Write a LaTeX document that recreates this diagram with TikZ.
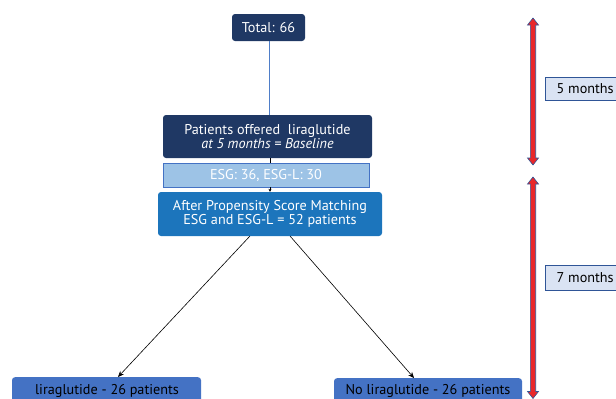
\documentclass[tikz,border=0pt]{standalone}
\usepackage{fontspec}
\setmainfont{PT Sans}
\usetikzlibrary{arrows.meta}
\definecolor{navy}{HTML}{1F3864}
\definecolor{midblue}{HTML}{1C75BC}
\definecolor{boxblue}{HTML}{4472C4}
\definecolor{lightblue}{HTML}{9DC3E6}
\definecolor{paleblue}{HTML}{DAE3F3}
\definecolor{edgeblue}{HTML}{2F5597}
\definecolor{arrred}{HTML}{E8272A}
\definecolor{linkblue}{HTML}{4F7EC8}
\tikzset{
  x=1pt,y=-1pt,
  every node/.style={font=\fontsize{14.2}{15.5}\selectfont},
  navybox/.style={fill=navy,text=white,rounded corners=3pt,inner sep=0pt,align=center},
  midbox/.style={fill=midblue,text=white,rounded corners=3pt,inner sep=0pt,align=center},
  lowbox/.style={fill=boxblue,text=white,rounded corners=3pt,inner sep=0pt,align=center},
  esgbox/.style={fill=lightblue,draw=boxblue,line width=0.8pt,text=white,inner sep=0pt},
  monthbox/.style={fill=paleblue,draw=edgeblue,line width=0.6pt,text=black,inner sep=0pt,anchor=west},
  conn/.style={draw=black,line width=0.6pt,-{Stealth[length=6pt,width=5pt]}},
}
\newcommand{\redarrow}[3]{% x, ytop, ybottom
  \fill[arrred,draw=edgeblue,line width=0.6pt]
    (#1,#2) -- (#1+5.5,#2+7) -- (#1+2.7,#2+7) -- (#1+2.7,#3-7) -- (#1+5.5,#3-7)
    -- (#1,#3) -- (#1-5.5,#3-7) -- (#1-2.7,#3-7) -- (#1-2.7,#2+7) -- (#1-5.5,#2+7) -- cycle;
}
\begin{document}
\begin{tikzpicture}
\useasboundingbox (0,0) rectangle (616,399);
\node[navybox,minimum width=73pt,minimum height=27pt] (total) at (268.5,27.5) {Total: 66};
\node[navybox,minimum width=209pt,minimum height=43pt] (offered) at (267.5,136.5) {Patients offered\ \ liraglutide\\[-1pt]\textit{at 5 months = Baseline}};
\node[esgbox,minimum width=206pt,minimum height=24pt] (esg) at (266,175) {ESG: 36, ESG-L: 30};
\node[midbox,minimum width=224pt,minimum height=44pt] (psm) at (270,214) {After Propensity Score Matching\\[-1pt]ESG and ESG-L = 52 patients};
\node[lowbox,minimum width=189pt,minimum height=30pt,anchor=north] (lira) at (106.5,377) {};
\node[lowbox,minimum width=188pt,minimum height=30pt,anchor=north] (nolira) at (428,378) {};
\node at (107,391) {liraglutide - 26 patients};
\node at (428,391) {No liraglutide - 26 patients};
\draw[draw=linkblue,line width=0.8pt] (total.south -| 269,0) -- (offered.north -| 269,0);
\draw[line width=0.5pt] (offered.south -| 270,0) -- (esg.north -| 270,0);
\draw[line width=0.5pt,-{Stealth[length=3pt,width=3pt]}] (esg.south -| 270,0) -- (psm.north -| 270,0);
\coordinate (l0) at (250,236);
\coordinate (r0) at (290,236);
\draw[conn] (l0) -- (lira.north -| 118,0);
\draw[conn] (r0) -- (nolira.north -| 414,0);
\redarrow{533}{18}{165}
\redarrow{533}{177}{398.5}
\node[monthbox,minimum width=76pt,minimum height=23pt] (m5) at (545,88.5) {\ 5 months\hfill};
\node[monthbox,minimum width=76pt,minimum height=25pt] (m7) at (545,277.5) {\ 7 months\hfill};
\end{tikzpicture}
\end{document}
